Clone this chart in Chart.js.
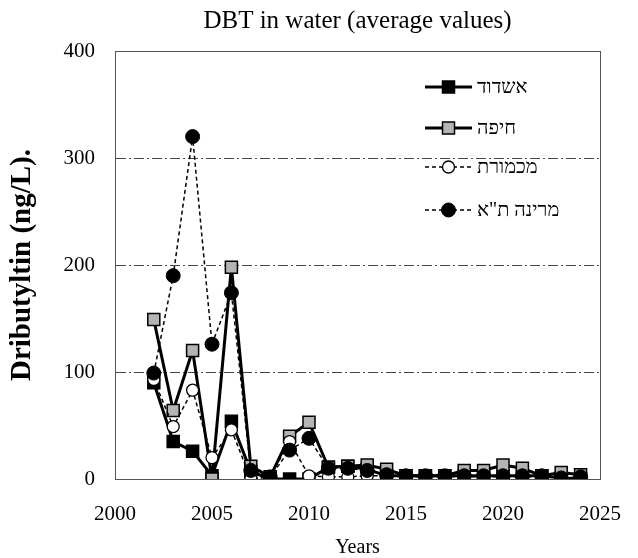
<!DOCTYPE html>
<html>
<head>
<meta charset="utf-8">
<script src="https://cdn.jsdelivr.net/npm/chart.js@4.4.0/dist/chart.umd.min.js"></script>
<style>
  html, body { margin: 0; padding: 0; background: #fff; }
  #wrap { width: 638px; height: 558px; }
</style>
</head>
<body>
<div id="wrap"><canvas id="chart"></canvas></div>
<script>
// ── Data ─────────────────────────────────────────────
const years     = [2002, 2003, 2004, 2005, 2006, 2007, 2008, 2009, 2010, 2011, 2012, 2013,
                   2014, 2015, 2016, 2017, 2018, 2019, 2020, 2021, 2022, 2023, 2024];
const ashdod    = [90, 35, 26, 3, 54, 7, 0, 0, 0, 11, 12, 9, 3, 3, 3, 3, 3, 3, 3, 3, 3, 1, 0];
const haifa     = [149, 64, 120, 0, 198, 12, 2, 40, 53, 11, 12, 13, 9, 3, 3, 3, 8, 8, 13, 10, 3, 6, 4];
const michmoret = [93, 49, 83, 20, 46, 0, 2, 35, 3, 2, 2, 3, 3, 2, 2, 2, 2, 2, 2, 2, 2, 1, 1];
const marina    = [99, 190, 320, 126, 174, 8, 2, 27, 38, 10, 10, 8, 4, 3, 3, 3, 3, 3, 3, 3, 3, 1, 2];

const xTicks = [2000, 2005, 2010, 2015, 2020, 2025];
const yTicks = [0, 100, 200, 300, 400];

const labels = ['אשדוד', 'חיפה', 'מכמורת', 'מרינה ת"א'];

const FONT = "'Liberation Serif', 'DejaVu Serif', serif";
const GRAY = '#b4b4b4';

const pts = arr => years.map((y, i) => ({ x: y, y: arr[i] }));

// ── Plugins ──────────────────────────────────────────
const frame = {
  id: 'frame',
  beforeDatasetsDraw(chart) {
    const { ctx, chartArea: a } = chart;
    ctx.save();
    ctx.strokeStyle = '#555';
    ctx.lineWidth = 1;
    ctx.strokeRect(a.left + 0.5, a.top + 0.5, a.right - a.left, a.bottom - a.top);
    ctx.restore();
  }
};

// legend drawn inside the plot: line sample + marker, then the label
const sideLegend = {
  id: 'sideLegend',
  afterDatasetsDraw(chart) {
    const { ctx, chartArea: a } = chart;
    const x0 = a.left + 310, x1 = a.left + 357, tx = a.left + 362;
    const mx = (x0 + x1) / 2;
    const rows = [36, 77, 116, 159];
    ctx.save();
    chart.data.datasets.forEach((ds, i) => {
      const y = a.top + rows[i];
      ctx.beginPath();
      ctx.setLineDash(ds.borderDash || []);
      ctx.lineWidth = ds.borderWidth;
      ctx.strokeStyle = '#000';
      ctx.moveTo(x0, y);
      ctx.lineTo(x1, y);
      ctx.stroke();
      ctx.setLineDash([]);
      ctx.fillStyle = ds.pointBackgroundColor;
      ctx.lineWidth = ds.pointBorderWidth;
      ctx.beginPath();
      if (ds.pointStyle === 'rect') {
        const h = ds.pointRadius * Math.SQRT1_2;
        ctx.rect(mx - h, y - h, 2 * h, 2 * h);
      } else {
        ctx.arc(mx, y, ds.pointRadius, 0, Math.PI * 2);
      }
      ctx.fill();
      ctx.stroke();
      ctx.fillStyle = '#000';
      ctx.font = '20px ' + FONT;
      ctx.textBaseline = 'middle';
      ctx.textAlign = 'left';
      ctx.fillText(ds.label, tx, y + 1);
    });
    ctx.restore();
  }
};

// ── Chart ────────────────────────────────────────────
new Chart(document.getElementById('chart'), {
  type: 'line',
  data: {
    datasets: [
      {
        label: labels[0], data: pts(ashdod), order: 4,
        borderColor: '#000', borderWidth: 3,
        pointStyle: 'rect', pointRadius: 8.5, pointBorderWidth: 1.5,
        pointBackgroundColor: '#000', pointBorderColor: '#000'
      },
      {
        label: labels[1], data: pts(haifa), order: 3,
        borderColor: '#000', borderWidth: 3,
        pointStyle: 'rect', pointRadius: 8.5, pointBorderWidth: 1.5,
        pointBackgroundColor: GRAY, pointBorderColor: '#000'
      },
      {
        label: labels[2], data: pts(michmoret), order: 2,
        borderColor: '#000', borderWidth: 1.5, borderDash: [4, 3],
        pointStyle: 'circle', pointRadius: 6, pointBorderWidth: 1.3,
        pointBackgroundColor: '#fff', pointBorderColor: '#000'
      },
      {
        label: labels[3], data: pts(marina), order: 1,
        borderColor: '#000', borderWidth: 1.5, borderDash: [4, 3],
        pointStyle: 'circle', pointRadius: 7, pointBorderWidth: 1,
        pointBackgroundColor: '#000', pointBorderColor: '#000'
      }
    ]
  },
  options: {
    responsive: true,
    maintainAspectRatio: false,
    animation: false,
    events: [],
    layout: { padding: { top: 0, right: 38, bottom: 0, left: 0 } },
    plugins: {
      legend: { display: false },
      tooltip: { enabled: false },
      title: {
        display: true,
        text: 'DBT in water (average values)',
        color: '#000',
        fullSize: false,
        font: { family: FONT, size: 25, weight: 'normal', lineHeight: 1.2 },
        padding: { top: 6, bottom: 15 }
      }
    },
    scales: {
      x: {
        type: 'linear', min: 2000, max: 2025,
        afterBuildTicks: s => { s.ticks = xTicks.map(v => ({ value: v })); },
        afterFit: s => { s.height = 79; },
        ticks: { color: '#000', font: { family: FONT, size: 21 }, padding: 15, maxRotation: 0, callback: v => String(v) },
        grid: { display: false },
        border: { color: '#555', width: 1 },
        title: {
          display: true, text: 'Years', color: '#000',
          font: { family: FONT, size: 20, lineHeight: 1 }, padding: { top: 0, bottom: 0 }
        }
      },
      y: {
        min: 0, max: 400,
        afterBuildTicks: s => { s.ticks = yTicks.map(v => ({ value: v })); },
        afterFit: s => { s.width = 115; },
        ticks: { color: '#000', font: { family: FONT, size: 21 }, padding: 20 },
        grid: {
          drawTicks: false,
          color: c => (c.tick && (c.tick.value === 0 || c.tick.value === 400)) ? 'rgba(0,0,0,0)' : '#444',
          lineWidth: 1
        },
        border: { color: '#555', width: 1, dash: [10, 3, 2, 3] },
        title: {
          display: true, text: 'Dributyltin (ng/L).', color: '#000',
          font: { family: FONT, size: 29, weight: 'bold', lineHeight: 1.2 }, padding: { top: 5, bottom: 0 }
        }
      }
    }
  },
  plugins: [frame, sideLegend]
});
</script>
</body>
</html>
